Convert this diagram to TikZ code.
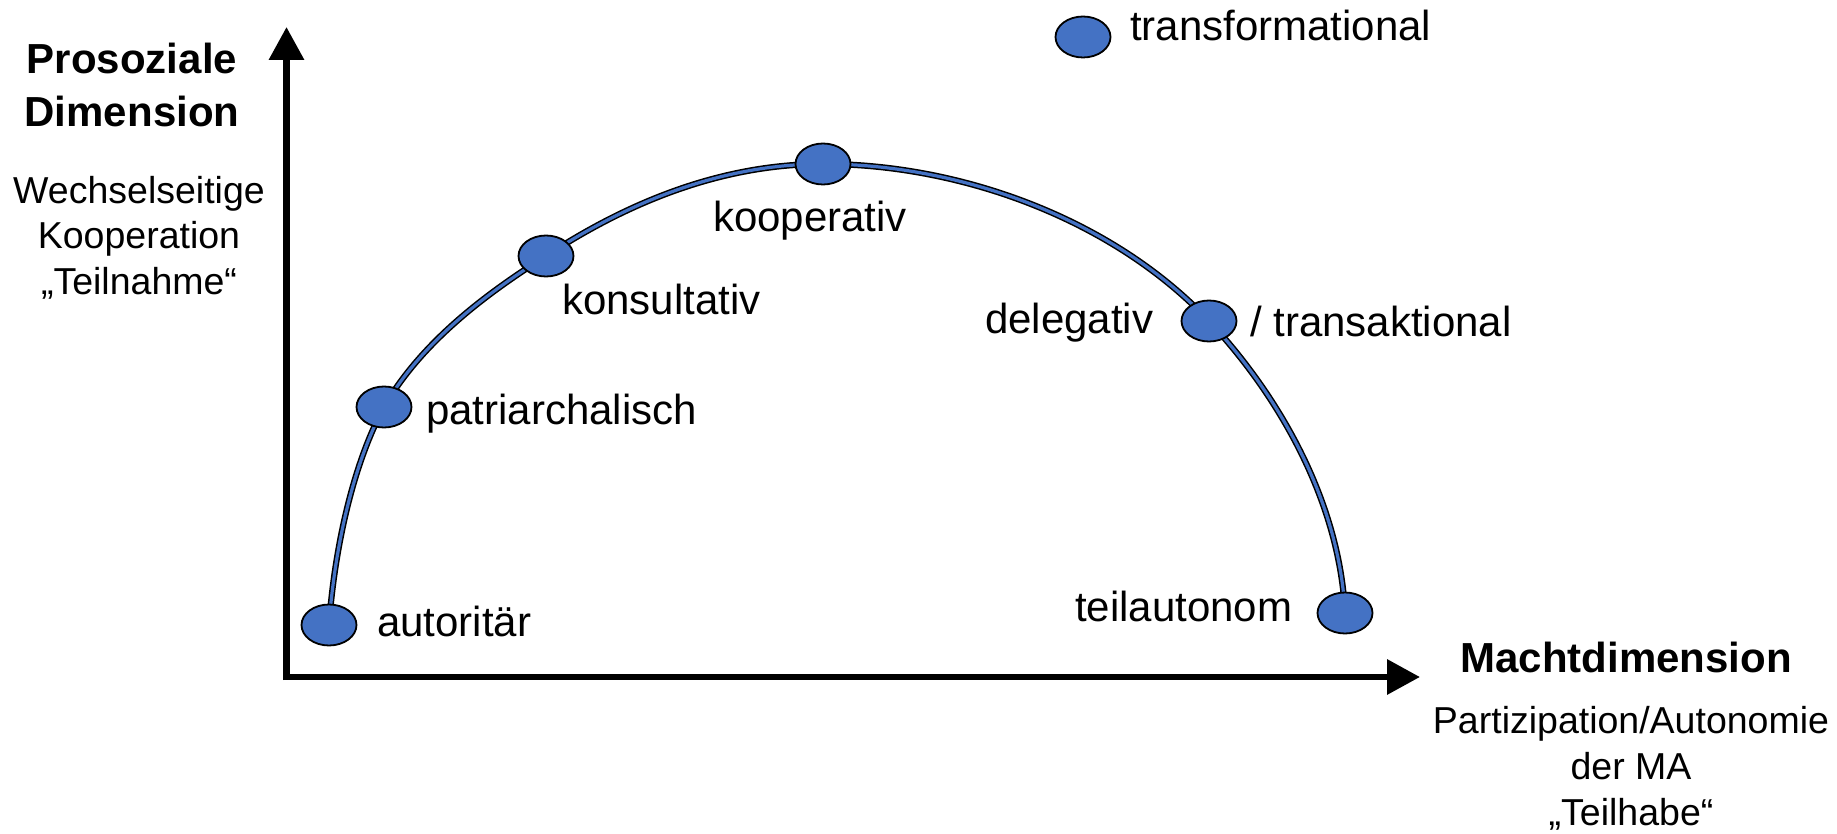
\documentclass[tikz,border=0pt]{standalone}
\usepackage{fontspec}
\setmainfont{Liberation Sans}
\usetikzlibrary{shapes.geometric,arrows.meta}
\definecolor{dotblue}{HTML}{4472C4}
\pgfdeclarelayer{bg}
\pgfsetlayers{bg,main}
\begin{document}
\begin{tikzpicture}[x=1pt,y=-1pt,
  dot/.style={ellipse,draw=black,line width=1.8pt,fill=dotblue,minimum width=55pt,minimum height=41pt,inner sep=0pt},
  lbl/.style={font=\fontsize{42}{47}\selectfont,inner sep=0pt,anchor=base west},
  axisline/.style={line width=6.5pt,-{Triangle[width=34pt,length=33pt]}},
  arcline/.style={draw=black,line width=1.5pt,double=dotblue,double distance=3.2pt},
  headtxt/.style={font=\fontsize{42}{53}\selectfont\bfseries,align=center,inner sep=0pt,anchor=base},
  subtxt/.style={font=\fontsize{37.5}{46}\selectfont,align=center,inner sep=0pt,anchor=base}]
\useasboundingbox (0,0) rectangle (1837,834);
% axes
\coordinate (o) at (286.5,680);
\coordinate (ytip) at (286.5,27);
\coordinate (ox) at (283,677);
\coordinate (xtip) at (1420,677);
\draw[axisline] (o) -- (ytip);
\draw[axisline] (ox) -- (xtip);
% dots
\node[dot] (aut) at (329,625) {};
\node[dot] (pat) at (384,407) {};
\node[dot] (kon) at (546,256) {};
\node[dot] (koo) at (823,164) {};
\node[dot] (del) at (1209,321) {};
\node[dot] (tei) at (1345,613) {};
\node[dot] (tra) at (1083,37) {};
% arc
\begin{pgfonlayer}{bg}
\draw[arcline] (aut.center) .. controls (334,555) and (351,468) .. (pat.center)
  .. controls (421,343) and (484,295) .. (kon.center)
  .. controls (630,201) and (723,164) .. (koo.center)
  .. controls (962,164) and (1114,220) .. (del.center)
  .. controls (1282,399) and (1340,505) .. (tei.center);
\end{pgfonlayer}
% labels
\node[lbl] (laut) at (377,636) {autoritär};
\node[lbl] (lpat) at (426,424) {patriarchalisch};
\node[lbl] (lkon) at (562,315) {konsultativ};
\node[lbl] (lkoo) at (713,232) {kooperativ};
\node[lbl] (ldel) at (985,334) {delegativ};
\node[lbl] (ltrk) at (1250,337) {/ transaktional};
\node[lbl] (ltei) at (1075,621) {teilautonom};
\node[lbl] (ltra) at (1130,41) {transformational};
% axis titles (base anchor = baseline of last line)
\node[headtxt] (yhead) at (132,127) {Prosoziale\\Dimension};
\node[subtxt] (ysub) at (139,295) {Wechselseitige\\Kooperation\\„Teilnahme“};
\node[headtxt] (xhead) at (1626,672) {Machtdimension};
\node[subtxt] (xsub) at (1631,825) {Partizipation/Autonomie\\der MA\\„Teilhabe“};
\end{tikzpicture}
\end{document}
